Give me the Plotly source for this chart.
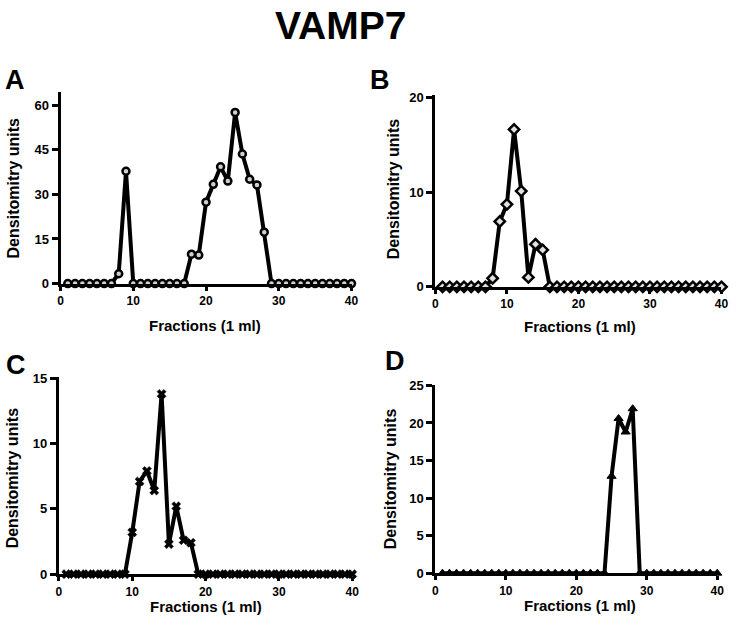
import plotly.graph_objects as go

W, H = 742, 629

fractions = list(range(1, 41))

vals_a = [0, 0, 0, 0, 0, 0, 0, 3.3, 37.8, 0,
          0, 0, 0, 0, 0, 0, 0, 9.9, 9.6, 27.4,
          33.4, 39.3, 34.5, 57.6, 43.6, 35.1, 33.2, 17.3, 0, 0,
          0, 0, 0, 0, 0, 0, 0, 0, 0, 0]
vals_b = [0, 0, 0, 0, 0, 0, 0, 0.9, 6.9, 8.7,
          16.6, 10.1, 1.0, 4.5, 3.9, 0, 0, 0, 0, 0,
          0, 0, 0, 0, 0, 0, 0, 0, 0, 0,
          0, 0, 0, 0, 0, 0, 0, 0, 0, 0]
vals_c = [0, 0, 0, 0, 0, 0, 0, 0, 0, 3.2,
          7.1, 7.9, 6.4, 13.8, 2.3, 5.2, 2.6, 2.4, 0, 0,
          0, 0, 0, 0, 0, 0, 0, 0, 0, 0,
          0, 0, 0, 0, 0, 0, 0, 0, 0, 0]
vals_d = [0, 0, 0, 0, 0, 0, 0, 0, 0, 0,
          0, 0, 0, 0, 0, 0, 0, 0, 0, 0,
          0, 0, 0, 0, 12.9, 20.6, 18.8, 21.9, 0, 0,
          0, 0, 0, 0, 0, 0, 0, 0, 0, 0]

x_ticks = [0, 10, 20, 30, 40]
y_ticks_a = [0, 15, 30, 45, 60]
y_ticks_b = [0, 10, 20]
y_ticks_c = [0, 5, 10, 15]
y_ticks_d = [0, 5, 10, 15, 20, 25]

title_text = "VAMP7"
panel_labels = ["A", "B", "C", "D"]
x_title = "Fractions (1 ml)"
y_title = "Densitomitry units"

FONT = "Liberation Sans, Arial, Helvetica, sans-serif"

def fx(px):
    return px / W

def fy(py):
    return 1 - py / H

panels = [
    dict(vals=vals_a, ticks=y_ticks_a, yr=[0, 64.5], xd=[58.3, 353.3], yd=[283.3, 87],
         marker=dict(symbol="circle", size=7, color="#d0d0d0", line=dict(color="black", width=2.5)),
         lab=(12, 75), ytit=(11, 185), xtit=(205, 326)),
    dict(vals=vals_b, ticks=y_ticks_b, yr=[0, 20.2], xd=[438.3, 728.3], yd=[286.7, 90.5],
         marker=dict(symbol="diamond", size=8, color="#e0e0e0", line=dict(color="black", width=2.5)),
         lab=(382, 75), ytit=(396, 186), xtit=(585, 327)),
    dict(vals=vals_c, ticks=y_ticks_c, yr=[0, 15.1], xd=[56.7, 354], yd=[581, 379],
         marker=dict(symbol="x", size=8, color="black", line=dict(color="black", width=0.5)),
         lab=(13, 367), ytit=(10, 482), xtit=(206, 614)),
    dict(vals=vals_d, ticks=y_ticks_d, yr=[0, 25], xd=[438.3, 724], yd=[580, 387.7],
         marker=dict(symbol="triangle-up", size=8, color="black", line=dict(color="black", width=1)),
         lab=(397, 363), ytit=(393, 483), xtit=(585, 613)),
]

fig = go.Figure()
annotations = []
layout_axes = {}

for i, p in enumerate(panels):
    n = "" if i == 0 else str(i + 1)
    fig.add_trace(go.Scatter(
        x=fractions, y=p["vals"], mode="lines+markers",
        line=dict(color="black", width=4),
        marker=p["marker"], cliponaxis=False, showlegend=False,
        xaxis="x" + n, yaxis="y" + n,
    ))
    layout_axes["xaxis" + n] = dict(
        domain=[fx(p["xd"][0]), fx(p["xd"][1])], range=[0, 40],
        anchor="y" + n, tickvals=x_ticks, ticks="outside", ticklen=4, tickwidth=3,
        tickcolor="black", showline=True, linecolor="black", linewidth=3,
        showgrid=False, zeroline=False, fixedrange=True,
        tickfont=dict(family=FONT, size=12, color="black", weight="bold"),
    )
    layout_axes["yaxis" + n] = dict(
        domain=[fy(p["yd"][0]), fy(p["yd"][1])], range=p["yr"],
        anchor="x" + n, tickvals=p["ticks"], ticks="outside", ticklen=6, tickwidth=3,
        tickcolor="black", showline=True, linecolor="black", linewidth=3,
        showgrid=False, zeroline=False, fixedrange=True,
        tickfont=dict(family=FONT, size=13, color="black", weight="bold"),
    )
    annotations.append(dict(
        text=panel_labels[i], x=fx(p["lab"][0]), y=fy(p["lab"][1]),
        xref="paper", yref="paper", xanchor="center", yanchor="middle",
        showarrow=False, font=dict(family=FONT, size=27, color="black", weight="bold"),
    ))
    annotations.append(dict(
        text=y_title, x=fx(p["ytit"][0]), y=fy(p["ytit"][1]), textangle=-90,
        xref="paper", yref="paper", xanchor="center", yanchor="middle",
        showarrow=False, font=dict(family=FONT, size=16, color="black", weight="bold"),
    ))
    annotations.append(dict(
        text=x_title, x=fx(p["xtit"][0]), y=fy(p["xtit"][1]),
        xref="paper", yref="paper", xanchor="center", yanchor="middle",
        showarrow=False, font=dict(family=FONT, size=15, color="black", weight="bold"),
    ))

annotations.append(dict(
    text=title_text, x=fx(342), y=fy(19), xref="paper", yref="paper",
    xanchor="center", yanchor="middle", showarrow=False,
    font=dict(family=FONT, size=39, color="black", weight="bold"),
))

fig.update_layout(
    width=W, height=H, autosize=False,
    margin=dict(l=0, r=0, t=0, b=0),
    paper_bgcolor="white", plot_bgcolor="white",
    annotations=annotations, showlegend=False,
    **layout_axes,
)

fig.write_html("out.html", config={"displayModeBar": False},
               post_script="document.body.style.margin='0px';document.body.style.overflow='hidden';")
